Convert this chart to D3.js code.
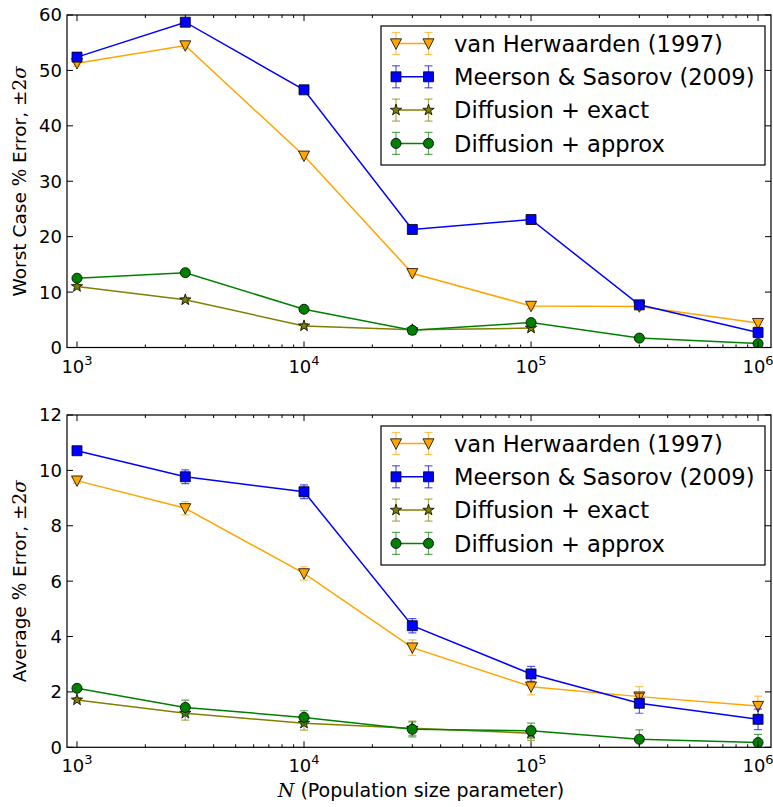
<!DOCTYPE html>
<html>
<head>
<meta charset="utf-8">
<script src="https://cdn.jsdelivr.net/npm/d3@7"></script>
<style>
  html, body { margin: 0; padding: 0; background: #fff; }
  svg { display: block; }
  text { font-family: "DejaVu Sans", sans-serif; fill: #000; }
</style>
</head>
<body>
<svg id="chart" width="773" height="807"></svg>
<script>
// ---------------- DATA ----------------
const xValues = [1e3, 3e3, 1e4, 3e4, 1e5, 3e5, 1e6];
const xTickValues = [1e3, 1e4, 1e5, 1e6];
const xTickExponents = ["3", "4", "5", "6"];
const seriesNames = ["van Herwaarden (1997)", "Meerson & Sasorov (2009)", "Diffusion + exact", "Diffusion + approx"];

// Top panel: worst case % error
const worstVanHerwaarden = [51.3, 54.5, 34.6, 13.4, 7.5, 7.4, 4.4];
const worstVanHerwaardenErr = [0.5, 0.5, 0.5, 0.5, 0.5, 0.6, 0.6];
const worstMeerson = [52.4, 58.7, 46.5, 21.3, 23.1, 7.7, 2.7];
const worstMeersonErr = [0.5, 0.5, 0.5, 0.5, 0.5, 0.6, 0.6];
const worstExact = [11.0, 8.6, 3.9, 3.2, 3.5];
const worstExactErr = [0.4, 0.4, 0.4, 0.4, 0.4];
const worstApprox = [12.5, 13.5, 6.9, 3.1, 4.5, 1.7, 0.7];
const worstApproxErr = [0.4, 0.4, 0.4, 0.4, 0.4, 0.5, 0.5];
const worstYTicks = [0, 10, 20, 30, 40, 50, 60];

// Bottom panel: average % error
const avgVanHerwaarden = [9.63, 8.63, 6.28, 3.60, 2.19, 1.83, 1.49];
const avgVanHerwaardenErr = [0.1, 0.24, 0.24, 0.28, 0.30, 0.36, 0.36];
const avgMeerson = [10.71, 9.77, 9.23, 4.39, 2.65, 1.59, 1.01];
const avgMeersonErr = [0.1, 0.25, 0.25, 0.26, 0.27, 0.36, 0.37];
const avgExact = [1.71, 1.23, 0.87, 0.69, 0.51];
const avgExactErr = [0.08, 0.25, 0.25, 0.26, 0.26];
const avgApprox = [2.13, 1.44, 1.08, 0.65, 0.60, 0.29, 0.17];
const avgApproxErr = [0.08, 0.26, 0.24, 0.27, 0.27, 0.34, 0.30];
const avgYTicks = [0, 2, 4, 6, 8, 10, 12];

// ---------------- STYLE ----------------
const colors = ["#ffa500", "#0000ff", "#808000", "#008000"];
const markers = ["triangleDown", "square", "star", "circle"];

const svg = d3.select("#chart");
const left = 67, right = 771;

const x = d3.scaleLog().domain([Math.pow(10, 2.956), Math.pow(10, 6.057)]).range([left, right]);

function markerPath(type) {
  if (type === "triangleDown") {
    const s = 5.5;
    return `M${-s},${-s * 0.85}L${s},${-s * 0.85}L0,${s * 1.05}Z`;
  }
  if (type === "square") return d3.symbol(d3.symbolSquare, 100)();
  if (type === "circle") return d3.symbol(d3.symbolCircle, 80)();
  if (type === "star") return d3.symbol(d3.symbolStar, 40)();
}

function drawPanel(top, bottom, yMax, yTicks, datasets, errsets, ylabelMain) {
  const y = d3.scaleLinear().domain([0, yMax]).range([bottom, top]);
  const g = svg.append("g");

  const clipId = "clip" + Math.round(top);
  svg.append("clipPath").attr("id", clipId)
    .append("rect").attr("x", left).attr("y", top).attr("width", right - left).attr("height", bottom - top);

  const plot = g.append("g").attr("clip-path", `url(#${clipId})`);

  datasets.forEach((vals, si) => {
    const pts = vals.map((v, i) => ({ x: xValues[i], y: v, e: errsets[si][i] }));
    const col = colors[si];
    const eb = plot.append("g").attr("stroke", col).attr("stroke-width", 1.2).attr("stroke-opacity", 0.65);
    pts.forEach(p => {
      const px = x(p.x);
      eb.append("line").attr("x1", px).attr("x2", px).attr("y1", y(p.y - p.e)).attr("y2", y(p.y + p.e));
      eb.append("line").attr("x1", px - 4).attr("x2", px + 4).attr("y1", y(p.y - p.e)).attr("y2", y(p.y - p.e));
      eb.append("line").attr("x1", px - 4).attr("x2", px + 4).attr("y1", y(p.y + p.e)).attr("y2", y(p.y + p.e));
    });
    plot.append("path")
      .attr("d", d3.line().x(d => x(d.x)).y(d => y(d.y))(pts))
      .attr("fill", "none").attr("stroke", col).attr("stroke-width", 1.5);
    plot.selectAll(null).data(pts).enter().append("path")
      .attr("d", markerPath(markers[si]))
      .attr("transform", d => `translate(${x(d.x)},${y(d.y)})`)
      .attr("fill", col).attr("stroke", "#000").attr("stroke-width", 0.8);
  });

  g.append("rect").attr("x", left).attr("y", top).attr("width", right - left).attr("height", bottom - top)
    .attr("fill", "none").attr("stroke", "#000").attr("stroke-width", 1.2);

  const minor = [];
  for (let k = 2; k <= 6; k++) {
    for (let m = 2; m <= 9; m++) {
      const v = m * Math.pow(10, k);
      if (v > x.domain()[0] && v < x.domain()[1]) minor.push(v);
    }
  }
  const tk = g.append("g").attr("stroke", "#000").attr("stroke-width", 1);
  xTickValues.forEach(v => {
    tk.append("line").attr("x1", x(v)).attr("x2", x(v)).attr("y1", bottom).attr("y2", bottom - 6);
    tk.append("line").attr("x1", x(v)).attr("x2", x(v)).attr("y1", top).attr("y2", top + 6);
  });
  minor.forEach(v => {
    tk.append("line").attr("x1", x(v)).attr("x2", x(v)).attr("y1", bottom).attr("y2", bottom - 3);
    tk.append("line").attr("x1", x(v)).attr("x2", x(v)).attr("y1", top).attr("y2", top + 3);
  });
  yTicks.forEach(v => {
    tk.append("line").attr("x1", left).attr("x2", left + 6).attr("y1", y(v)).attr("y2", y(v));
    tk.append("line").attr("x1", right).attr("x2", right - 6).attr("y1", y(v)).attr("y2", y(v));
  });

  xTickValues.forEach((v, i) => {
    const t = g.append("text").attr("x", x(v)).attr("y", bottom + 25).attr("text-anchor", "middle")
      .attr("font-size", 18);
    t.append("tspan").text("10");
    t.append("tspan").attr("dy", -8).attr("font-size", 13).text(xTickExponents[i]);
  });
  yTicks.forEach(v => {
    g.append("text").attr("x", left - 5).attr("y", y(v)).attr("dy", "0.36em")
      .attr("text-anchor", "end").attr("font-size", 18).text(v);
  });

  const yl = g.append("text")
    .attr("transform", `translate(26,${(top + bottom) / 2}) rotate(-90)`)
    .attr("text-anchor", "middle").attr("font-size", 18.5);
  yl.append("tspan").text(ylabelMain + " ");
  yl.append("tspan").attr("font-family", "DejaVu Serif, serif").text("%");
  yl.append("tspan").text(" Error, ");
  yl.append("tspan").attr("font-family", "DejaVu Serif, serif").text("\u00b12");
  yl.append("tspan").attr("font-family", "DejaVu Serif, serif").attr("font-style", "italic").text("\u03c3");

  const lx = 381, ly = top + 11, lw = 384, lh = 139;
  const lg = g.append("g");
  lg.append("rect").attr("x", lx).attr("y", ly).attr("width", lw).attr("height", lh)
    .attr("fill", "#fff").attr("stroke", "#000").attr("stroke-width", 1.2);
  seriesNames.forEach((name, i) => {
    const cy = ly + 17.5 + i * 33.3;
    const x1 = lx + 15, x2 = lx + 47.5;
    const col = colors[i];
    const eb = lg.append("g").attr("stroke", col).attr("stroke-width", 1.2).attr("stroke-opacity", 0.65);
    [x1, x2].forEach(px => {
      eb.append("line").attr("x1", px).attr("x2", px).attr("y1", cy - 11).attr("y2", cy + 11);
      eb.append("line").attr("x1", px - 4).attr("x2", px + 4).attr("y1", cy - 11).attr("y2", cy - 11);
      eb.append("line").attr("x1", px - 4).attr("x2", px + 4).attr("y1", cy + 11).attr("y2", cy + 11);
    });
    lg.append("line").attr("x1", x1).attr("x2", x2).attr("y1", cy).attr("y2", cy)
      .attr("stroke", col).attr("stroke-width", 1.5);
    [x1, x2].forEach(px => {
      lg.append("path").attr("d", markerPath(markers[i])).attr("transform", `translate(${px},${cy})`)
        .attr("fill", col).attr("stroke", "#000").attr("stroke-width", 0.8);
    });
    lg.append("text").attr("x", lx + 73).attr("y", cy).attr("dy", "0.36em").attr("font-size", 22.6).text(name);
  });
}

drawPanel(15, 347.5, 60, worstYTicks,
  [worstVanHerwaarden, worstMeerson, worstExact, worstApprox],
  [worstVanHerwaardenErr, worstMeersonErr, worstExactErr, worstApproxErr],
  "Worst Case");

drawPanel(415, 747.3, 12, avgYTicks,
  [avgVanHerwaarden, avgMeerson, avgExact, avgApprox],
  [avgVanHerwaardenErr, avgMeersonErr, avgExactErr, avgApproxErr],
  "Average");

const xl = svg.append("text").attr("x", 421).attr("y", 797).attr("text-anchor", "middle").attr("font-size", 19);
xl.append("tspan").attr("font-family", "DejaVu Serif, serif").attr("font-style", "italic").text("N");
xl.append("tspan").text(" (Population size parameter)");
</script>
</body>
</html>
